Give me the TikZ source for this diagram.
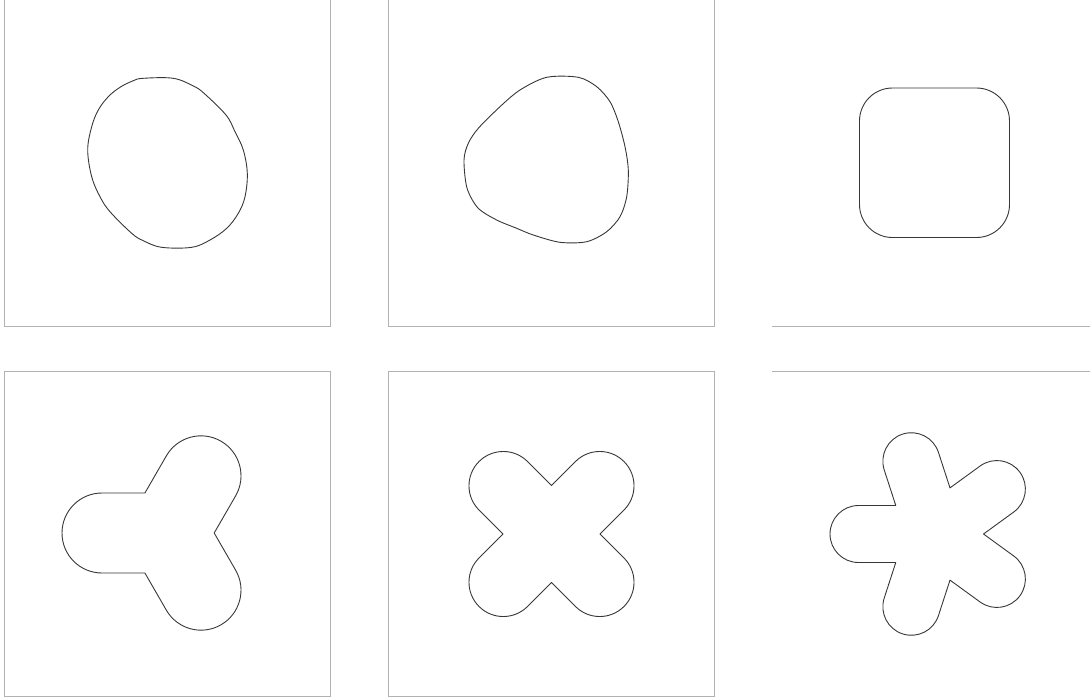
\documentclass[tikz,border=0pt]{standalone}
\usepackage{tikz}
\usetikzlibrary{calc}
\definecolor{framegray}{RGB}{178,178,178}
\definecolor{curvedark}{RGB}{55,55,55}

% closed outline made of rounded lobes around a centre
\newcommand{\lobeshape}[6]{% cx, cy, lobes, first angle, reach, radius
  \pgfmathsetmacro{\lobestep}{360/#3}
  \pgfmathsetmacro{\notchdist}{#6/sin(\lobestep/2)}
  \pgfmathsetmacro{\lobenext}{#4+\lobestep}
  \pgfmathsetmacro{\lobelast}{#4+(#3-1)*\lobestep}
  \draw[outline] ({#1+\notchdist*cos(#4-\lobestep/2)},{#2+\notchdist*sin(#4-\lobestep/2)})
    \foreach \a in {#4,\lobenext,...,\lobelast} {
      -- ({#1+#5*cos(\a)+#6*cos(\a-90)},{#2+#5*sin(\a)+#6*sin(\a-90)})
      arc[start angle=\a-90, end angle=\a+90, radius=#6]
      -- ({#1+\notchdist*cos(\a+\lobestep/2)},{#2+\notchdist*sin(\a+\lobestep/2)})
    } -- cycle;
}

\begin{document}
\begin{tikzpicture}[
    x=1pt, y=-1pt,
    frame/.style={draw=framegray, line width=1pt},
    outline/.style={draw=curvedark, line width=0.9pt, line join=round}
]
\useasboundingbox (0,0) rectangle (1090,699);

% frames
\draw[frame] (4.5,0) -- (4.5,326) -- (330.5,326) -- (330.5,0);
\draw[frame] (388.5,0) -- (388.5,326) -- (714.5,326) -- (714.5,0);
\draw[frame] (772,326) -- (1090,326);
\draw[frame] (4.5,371) rectangle (330.5,696.5);
\draw[frame] (388.5,371) rectangle (714.5,696.5);
\draw[frame] (772,371) -- (1090,371);

% egg
\draw[outline] plot[smooth cycle, tension=0.6] coordinates {
  (143.3,78.3) (173.3,78.3) (193.3,86) (204,93.3) (226,115) (235,131.7)
  (243.3,150) (247.3,173.3) (245,196.7) (238.3,213.3) (226.7,228.3)
  (210,240) (191.7,247.3) (161.7,247.3) (143.3,240.7) (131.7,233.3)
  (110,211.7) (100,196.7) (91.7,176.7) (87.7,150) (91.7,126.7)
  (98.3,110) (108.3,96.7) (120,87.3) (133.3,80.7)};

% rounded triangle
\draw[outline] plot[smooth cycle, tension=0.5] coordinates {
  (546.7,77.3) (578.3,77.3) (596.7,86.7) (610,101.7) (618.3,121.7)
  (625,146.7) (628.3,170) (626.7,196.7) (620,216.7) (606.7,231.7)
  (586.7,241.7) (560,242.3) (533.3,235) (516.7,228.3) (496.7,220)
  (478,208) (467,188) (464,160) (468.3,143.3) (478.3,128.3) (500,106.7)
  (520,90)};

% rounded square
\draw[outline, rounded corners=33pt] (859.5,88) rectangle (1009.5,237.5);

% trefoil, cross, flower
\lobeshape{168}{533}{3}{60}{66}{40}
\lobeshape{551.5}{534}{4}{45}{68.2}{34.3}
\lobeshape{935}{534}{5}{36}{76.5}{28.5}

\end{tikzpicture}
\end{document}
